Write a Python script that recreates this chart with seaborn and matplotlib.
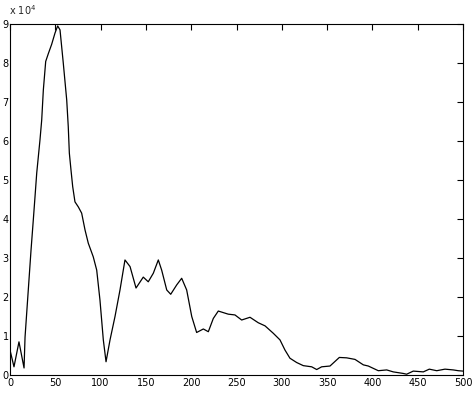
import matplotlib
matplotlib.use("Agg")
import matplotlib.pyplot as plt
import seaborn as sns
import pandas as pd
from matplotlib.ticker import FuncFormatter

# data (y in units of 1e4)
x_vals = [0, 4.4, 9.9, 15.5, 16.6, 23.2, 25.7, 27.6, 29.5, 33.1, 35, 36.8, 39.4, 42.3,
          46, 49.7, 52.6, 55.2, 58.8, 62.6, 64.3, 65.5, 67.3, 69.2, 71.7, 75.4, 79.1,
          82.8, 86.4, 91.9, 95.7, 99.3, 103, 106, 110.4, 115.9, 121.4, 126.9, 132.5,
          139.1, 147.1, 152.6, 158.2, 163.7, 167.4, 173, 177.4, 184, 189.5, 195, 200.6,
          206, 213.4, 218.9, 224.4, 229.9, 240.9, 248.3, 255.7, 264.9, 274, 281.5,
          290.6, 298, 303.5, 309, 316.4, 323.7, 333, 338.5, 344, 353.2, 363.5, 371.6,
          380.8, 390, 395.5, 406.5, 415.8, 423, 434, 437.8, 445.1, 456.2, 462.8, 471,
          480.1, 489.3, 494.8, 500]
y_vals = [0.64, 0.21, 0.85, 0.18, 0.97, 3.2, 3.97, 4.57, 5.18, 6.03, 6.54, 7.31, 8.04, 8.24,
          8.48, 8.77, 8.95, 8.85, 8.0, 7.05, 6.37, 5.69, 5.26, 4.83, 4.44, 4.31, 4.15,
          3.72, 3.38, 3.03, 2.69, 1.92, 0.9, 0.34, 0.9, 1.5, 2.18, 2.95, 2.78,
          2.23, 2.51, 2.39, 2.61, 2.95, 2.69, 2.18, 2.07, 2.31, 2.48, 2.18, 1.5,
          1.09, 1.18, 1.11, 1.45, 1.64, 1.56, 1.54, 1.41, 1.48, 1.34, 1.26,
          1.07, 0.9, 0.64, 0.43, 0.32, 0.24, 0.21, 0.14, 0.21, 0.23, 0.45, 0.44,
          0.40, 0.26, 0.23, 0.11, 0.13, 0.08, 0.04, 0.02, 0.10, 0.08, 0.15, 0.11,
          0.15, 0.13, 0.11, 0.10]
y_values = [v * 1e4 for v in y_vals]

x_ticks = [0, 50, 100, 150, 200, 250, 300, 350, 400, 450, 500]
y_ticks = [v * 1e4 for v in range(0, 10)]

sns.set_style("white")
plt.rcParams['font.family'] = ['DejaVu Sans']

df = pd.DataFrame({"x": x_vals, "y": y_values})

fig = plt.figure(figsize=(4.73, 3.93), dpi=100)
ax = fig.add_axes([10/473, 18/393, 453/473, 351/393])
sns.lineplot(data=df, x="x", y="y", ax=ax, color="black", linewidth=0.9, sort=False)

ax.set_xlim(0, 500)
ax.set_ylim(0, 9e4)
ax.set_xticks(x_ticks)
ax.set_yticks(y_ticks)
ax.yaxis.set_major_formatter(FuncFormatter(lambda v, p: f"{v/1e4:.0f}"))
ax.set_xlabel("")
ax.set_ylabel("")
ax.tick_params(direction="in", length=4, width=0.8, top=True, right=True,
               labelsize=7, colors="black", pad=2)
ax.tick_params(axis="y", pad=1)
for s in ax.spines.values():
    s.set_color("black")
    s.set_linewidth(0.8)

fig.text(9/473, 1 - 10/393, r"x 10$^4$", fontsize=7, ha="left", va="center")

fig.savefig("out.png", dpi=100)
